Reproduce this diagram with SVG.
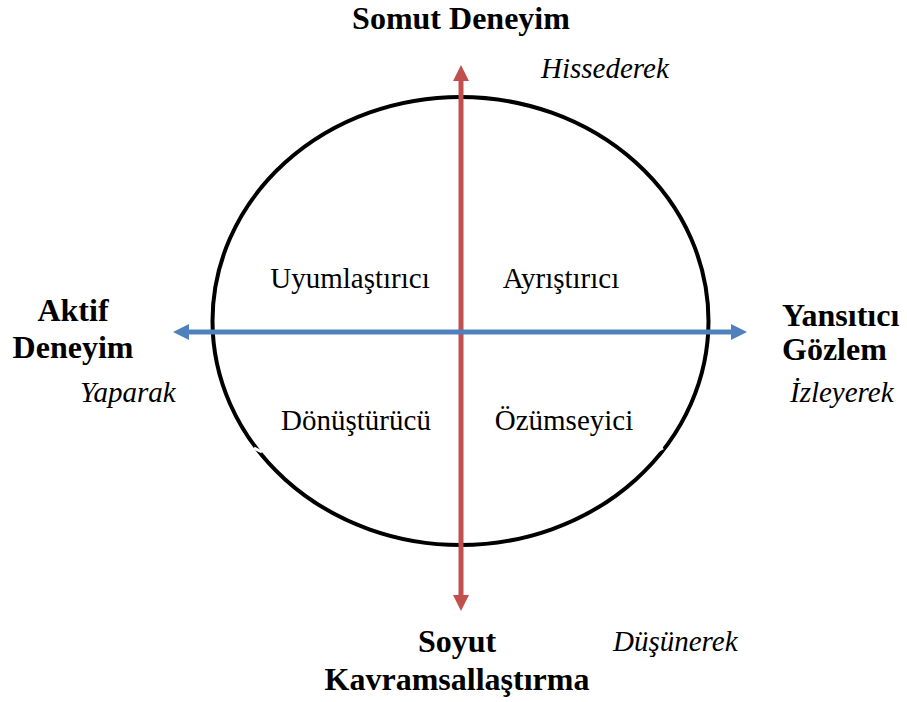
<svg xmlns="http://www.w3.org/2000/svg" width="907" height="702" viewBox="0 0 907 702">
<style>
.b{font-family:"Liberation Serif","Times New Roman",serif;font-weight:bold;font-size:32px;fill:#000}
.r{font-family:"Liberation Serif","Times New Roman",serif;font-size:29px;fill:#000}
.i{font-family:"Liberation Serif","Times New Roman",serif;font-style:italic;font-size:29px;fill:#000}
</style>
<defs>
<clipPath id="gc"><rect x="760" y="330" width="147" height="32"/></clipPath>
</defs>
<rect width="907" height="702" fill="#fff"/>
<g id="cycle">
<ellipse cx="460.5" cy="321" rx="248" ry="224" fill="none" stroke="#000" stroke-width="4"/>
<line x1="254" y1="448" x2="262" y2="452" stroke="#fff" stroke-width="3"/>
<line x1="655" y1="452" x2="663" y2="448" stroke="#fff" stroke-width="3"/>
</g>
<g id="connectors">
<line x1="461" y1="80" x2="461" y2="596" stroke="#C0504D" stroke-width="5"/>
<polygon points="461,65 469,81 453,81" fill="#C0504D"/>
<polygon points="461,611 469,595 453,595" fill="#C0504D"/>
<line x1="188" y1="332" x2="732" y2="332" stroke="#4F81BD" stroke-width="5"/>
<polygon points="173,332 189,324 189,340" fill="#4F81BD"/>
<polygon points="747,332 731,324 731,340" fill="#4F81BD"/>
</g>
<g id="top"><text class="b" x="461" y="29" text-anchor="middle">Somut Deneyim</text><text class="i" x="541" y="78">Hissederek</text></g>
<g id="q1"><text class="r" x="350" y="288" text-anchor="middle">Uyumlaştırıcı</text></g>
<g id="q2"><text class="r" x="561" y="288" text-anchor="middle">Ayrıştırıcı</text></g>
<g id="q3"><text class="r" x="356" y="430" text-anchor="middle">Dönüştürücü</text></g>
<g id="q4"><text class="r" x="564" y="430" text-anchor="middle">Özümseyici</text></g>
<g id="left"><text class="b" x="73" y="321" text-anchor="middle">Aktif</text><text class="b" x="73" y="358" text-anchor="middle">Deneyim</text><text class="i" x="80" y="402">Yaparak</text></g>
<g id="right"><text class="b" x="782" y="326">Yansıtıcı</text><text class="b" x="782" y="360" clip-path="url(#gc)">Gözlem</text><text class="i" x="790" y="402">İzleyerek</text></g>
<g id="bottom"><text class="b" x="457" y="652" text-anchor="middle">Soyut</text><text class="b" x="457" y="690" text-anchor="middle">Kavramsallaştırma</text><text class="i" x="613" y="651">Düşünerek</text></g>
</svg>
